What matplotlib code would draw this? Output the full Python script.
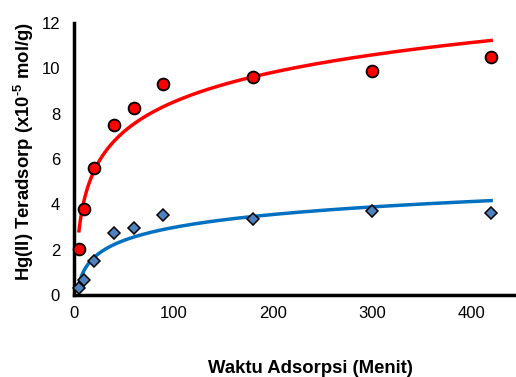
import numpy as np
import matplotlib
matplotlib.use('Agg')
import matplotlib.pyplot as plt

plt.rcParams['font.family'] = ['Liberation Sans', 'DejaVu Sans']
plt.rcParams['mathtext.fontset'] = 'custom'
plt.rcParams['mathtext.bf'] = 'Liberation Sans:bold'
plt.rcParams['mathtext.rm'] = 'Liberation Sans:bold'
plt.rcParams['mathtext.default'] = 'bf'

# Adsorption time (minutes)
waktu = [5, 10, 20, 40, 60, 90, 180, 300, 420]
# Hg(II) adsorbed (x10^-5 mol/g)
hg_merah = [2.03, 3.8, 5.6, 7.5, 8.27, 9.3, 9.6, 9.9, 10.5]
hg_biru = [0.3, 0.66, 1.5, 2.75, 2.96, 3.54, 3.35, 3.72, 3.62]

x_ticks = [0, 100, 200, 300, 400]
y_ticks = [0, 2, 4, 6, 8, 10, 12]

t = np.array(waktu, dtype=float)

# logarithmic trendlines (like Excel), fitted to the points
t_fit = np.linspace(t.min(), t.max(), 300)
a_r, b_r = np.polyfit(np.log(t), hg_merah, 1)
a_b, b_b = np.polyfit(np.log(t), hg_biru, 1)

fig = plt.figure(figsize=(5.16, 3.77), dpi=100)
ax = fig.add_axes([0.1434, 0.2175, 0.8566, 0.7215])

ax.plot(t_fit, a_r * np.log(t_fit) + b_r, color='#FF0000', lw=2.5, zorder=2)
ax.plot(t_fit, a_b * np.log(t_fit) + b_b, color='#0070C0', lw=2.5, zorder=2)
ax.plot(waktu, hg_merah, 'o', ms=8.5, mfc='#FF0000', mec='black', mew=1.3,
        zorder=3, clip_on=False)
ax.plot(waktu, hg_biru, 'D', ms=6.2, mfc='#4F81BD', mec='black', mew=1.1,
        zorder=3, clip_on=False)

ax.set_xlim(0, 445)
ax.set_ylim(0, 12)
ax.set_xticks(x_ticks)
ax.set_yticks(y_ticks)
ax.tick_params(length=0, labelsize=12, pad=8)
ax.tick_params(axis='y', pad=10)

for side in ['top', 'right']:
    ax.spines[side].set_visible(False)
for side in ['left', 'bottom']:
    ax.spines[side].set_linewidth(2.5)

ax.set_xlabel('Waktu Adsorpsi (Menit)', fontsize=13.3, fontweight='bold')
ax.xaxis.set_label_coords(0.534, -0.238)
ax.set_ylabel('Hg(II) Teradsorp (x10$^{\\text{-}5}$ mol/g)', fontsize=13.3,
              fontweight='bold')
ax.yaxis.set_label_coords(-0.086, 0.529)

fig.savefig('out.png', dpi=100)
